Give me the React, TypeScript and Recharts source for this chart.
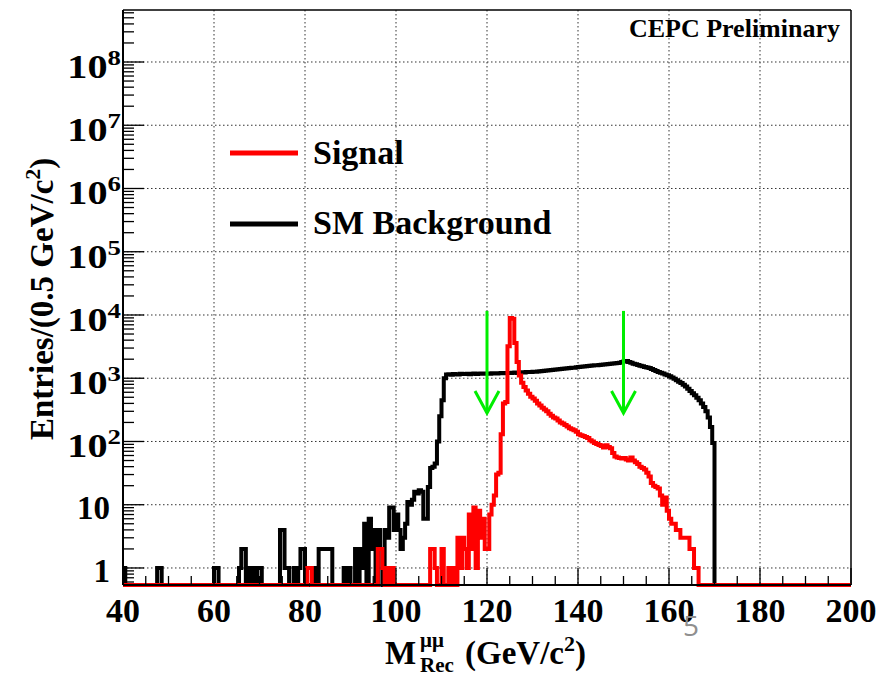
import React from "react";
import { LineChart, Line, XAxis, YAxis, CartesianGrid, ReferenceLine } from "recharts";

const SERIF = "'Liberation Serif', 'Times New Roman', Times, serif";

// histogram binning (0.5 GeV bins from 40 to 200)
const BIN_LOW = 40;
const BIN_WIDTH = 0.5;
const X_MIN = 40;
const X_MAX = 200;
const Y_MIN = 0.538;
const Y_MAX = 6.64e8;

// SM background entries per 0.5 GeV bin (row = 5 GeV, starting at 40)
const bkgCounts = [
  1, 0, 0, 0, 0, 0, 0, 0, 0, 0,
  0, 0, 0, 0, 0, 1, 1, 0, 0, 0,
  0, 0, 0, 0, 0, 0, 0, 0, 0, 0,
  0, 0, 0, 0, 0, 0, 0, 0, 0, 0,
  1, 1, 0, 0, 0, 0, 0, 0, 0, 0,
  0, 1, 2, 2, 0, 1, 0, 1, 0, 1,
  1, 0, 0, 0, 0, 0, 0, 0, 0, 4,
  4, 1, 1, 0, 0, 1, 0, 1, 2, 2,
  0, 0, 0, 0, 1, 0, 2, 2, 2, 2,
  2, 2, 0, 0, 0, 0, 0, 1, 0, 1,
  0, 0, 2, 0, 2, 1, 5, 0, 6, 2,
  4, 0, 4, 2, 0, 4, 3, 9, 9, 4,
  7, 4, 2, 3, 5, 11, 10, 12, 16, 15,
  17, 16, 6, 6, 19, 38, 40, 45, 100, 250,
  450, 1000, 1150, 1160, 1140, 1170, 1160, 1150, 1175, 1165,
  1170, 1180, 1160, 1175, 1185, 1170, 1180, 1190, 1175, 1185,
  1190, 1180, 1195, 1200, 1185, 1200, 1210, 1195, 1205, 1215,
  1210, 1220, 1230, 1215, 1235, 1240, 1230, 1250, 1255, 1260,
  1270, 1265, 1280, 1290, 1300, 1310, 1320, 1335, 1350, 1360,
  1380, 1390, 1400, 1410, 1420, 1440, 1450, 1460, 1470, 1490,
  1500, 1520, 1530, 1550, 1560, 1570, 1590, 1600, 1610, 1620,
  1640, 1650, 1660, 1680, 1700, 1710, 1730, 1740, 1760, 1800,
  1860, 1880, 1800, 1760, 1700, 1660, 1620, 1580, 1550, 1510,
  1480, 1450, 1400, 1350, 1300, 1260, 1220, 1190, 1150, 1110,
  1070, 1030, 980, 930, 880, 840, 790, 740, 680, 630,
  580, 540, 490, 450, 400, 350, 300, 240, 170, 95,
  0, 0, 0, 0, 0, 0, 0, 0, 0, 0,
  0, 0, 0, 0, 0, 0, 0, 0, 0, 0,
  0, 0, 0, 0, 0, 0, 0, 0, 0, 0,
  0, 0, 0, 0, 0, 0, 0, 0, 0, 0,
  0, 0, 0, 0, 0, 0, 0, 0, 0, 0,
  0, 0, 0, 0, 0, 0, 0, 0, 0, 0,
];

// Signal entries per 0.5 GeV bin
const sigCounts = [
  0, 0, 0, 0, 0, 0, 0, 0, 0, 0,
  0, 0, 0, 0, 0, 0, 0, 0, 0, 0,
  0, 0, 0, 0, 0, 0, 0, 0, 0, 0,
  0, 0, 0, 0, 0, 0, 0, 0, 0, 0,
  0, 0, 0, 0, 0, 0, 0, 0, 0, 0,
  0, 0, 0, 0, 0, 0, 0, 0, 0, 0,
  0, 0, 0, 0, 0, 0, 0, 0, 0, 0,
  0, 0, 0, 0, 0, 0, 0, 0, 0, 0,
  0, 1, 1, 0, 0, 0, 0, 0, 0, 0,
  0, 0, 0, 0, 0, 0, 0, 0, 0, 0,
  0, 0, 0, 0, 0, 0, 0, 0, 0, 0,
  0, 0, 2, 2, 1, 0, 1, 0, 1, 0,
  0, 0, 0, 0, 0, 0, 0, 0, 0, 0,
  0, 0, 0, 0, 0, 2, 2, 1, 0, 0,
  2, 0, 0, 1, 0, 1, 0, 3, 1, 3,
  2, 1, 7, 2, 9, 1, 8, 3, 6, 2,
  2, 7, 10, 14, 30, 32, 130, 400, 420, 3200,
  9000, 8700, 3600, 1800, 1100, 850, 730, 640, 570, 510,
  480, 440, 400, 370, 340, 320, 300, 275, 255, 240,
  230, 215, 200, 192, 182, 172, 162, 156, 150, 142,
  130, 125, 122, 118, 114, 105, 100, 95, 91, 88,
  85, 80, 87, 82, 78, 66, 58, 56, 55, 54,
  55, 52, 50, 56, 50, 47, 44, 40, 38, 36,
  32, 28, 22, 20, 19, 18, 14, 10, 13, 8,
  6, 5, 5, 4, 4, 3, 3, 3, 3, 2,
  2, 1, 1, 0, 0, 0, 0, 0, 0, 0,
  0, 0, 0, 0, 0, 0, 0, 0, 0, 0,
  0, 0, 0, 0, 0, 0, 0, 0, 0, 0,
  0, 0, 0, 0, 0, 0, 0, 0, 0, 0,
  0, 0, 0, 0, 0, 0, 0, 0, 0, 0,
  0, 0, 0, 0, 0, 0, 0, 0, 0, 0,
  0, 0, 0, 0, 0, 0, 0, 0, 0, 0,
];

const xLabelTicks = [40, 60, 80, 100, 120, 140, 160, 180, 200];
const xGridValues = [60, 80, 100, 120, 140, 160, 180];
const yDecadeTicks = [1, 10, 100, 1e3, 1e4, 1e5, 1e6, 1e7, 1e8];
const yTickLabels: [string, string][] = [
  ["1", ""], ["10", ""], ["10", "2"], ["10", "3"], ["10", "4"],
  ["10", "5"], ["10", "6"], ["10", "7"], ["10", "8"],
];
const cutValues = [120, 150];
const arrowTop = 11600;
const arrowTip = 282;
const legendItems = [
  { label: "Signal", color: "#ff0000" },
  { label: "SM Background", color: "#000000" },
];

// tick positions (5 GeV minor ticks, log minor ticks)
const xTicks: number[] = [];
for (let v = X_MIN; v <= X_MAX; v += 5) xTicks.push(v);
const yTicks: number[] = [];
for (let e = -1; e <= 8; e++) {
  for (let k = 1; k <= 9; k++) {
    const v = k * Math.pow(10, e);
    if (v >= Y_MIN && v <= Y_MAX) yTicks.push(v);
  }
}

const floorZero = (v: number) => (v > 0 ? v : Y_MIN);
const histData = bkgCounts.map((b, i) => ({
  m: BIN_LOW + i * BIN_WIDTH,
  bkg: floorZero(b),
  sig: floorZero(sigCounts[i]),
}));
histData.push({
  m: X_MAX,
  bkg: floorZero(bkgCounts[bkgCounts.length - 1]),
  sig: floorZero(sigCounts[sigCounts.length - 1]),
});

const PLOT_LEFT = 123;
const PLOT_BOTTOM = 585;

function YTick(props: any) {
  const { y, payload } = props;
  const x = PLOT_LEFT;
  const v = payload.value;
  const idx = yDecadeTicks.findIndex((d) => Math.abs(d - v) / d < 1e-6);
  const major = idx >= 0;
  const lab = major ? yTickLabels[idx] : null;
  return (
    <g>
      <line x1={x} y1={y} x2={x + (major ? 21 : 11)} y2={y} stroke="#000" strokeWidth={1.3} />
      {lab && lab[1] !== "" && (
        <text
          transform={`translate(${x - 2},${y + 16}) scale(1.22,1)`}
          textAnchor="end"
          fontFamily={SERIF}
          fontWeight="bold"
          fontSize={33}
          fill="#000"
        >
          {lab[0]}
          <tspan dy={-13} fontSize={22}>{lab[1]}</tspan>
        </text>
      )}
      {lab && lab[1] === "" && (
        <text x={x - 13} y={y + 14} textAnchor="end" fontFamily={SERIF} fontWeight="bold" fontSize={33} fill="#000">
          {lab[0]}
        </text>
      )}
    </g>
  );
}

function XTick(props: any) {
  const { x, payload } = props;
  const y = PLOT_BOTTOM;
  const v = payload.value;
  const major = xLabelTicks.indexOf(v) >= 0;
  return (
    <g>
      <line x1={x} y1={y} x2={x} y2={y - (major ? 17 : 9)} stroke="#000" strokeWidth={1.3} />
      {major && (
        <text x={x} y={y + 37} textAnchor="middle" fontFamily={SERIF} fontWeight="bold" fontSize={34} fill="#000">
          {v}
        </text>
      )}
    </g>
  );
}

function ArrowShape(props: any) {
  const { x1, y1, x2, y2 } = props;
  const col = "#00ee00";
  return (
    <g>
      <line x1={x1} y1={y1} x2={x2} y2={y2} stroke={col} strokeWidth={3} />
      <polyline
        points={`${x2 - 12},${y2 - 22} ${x2},${y2} ${x2 + 12},${y2 - 22}`}
        fill="none"
        stroke={col}
        strokeWidth={3}
      />
    </g>
  );
}

export default function App() {
  return (
    <div style={{ position: "fixed", left: 0, top: 0, width: 881, height: 673, background: "#fff" }}>
      <LineChart
        width={881}
        height={673}
        data={histData}
        margin={{ top: 10, right: 30, bottom: 48, left: 63 }}
      >
        <CartesianGrid
          horizontalValues={yDecadeTicks}
          verticalValues={xGridValues}
          stroke="#333"
          strokeDasharray="1.5 2.5"
          strokeWidth={1}
        />
        <XAxis
          dataKey="m"
          type="number"
          domain={[X_MIN, X_MAX]}
          ticks={xTicks}
          interval={0}
          tick={XTick}
          tickLine={false}
          tickSize={0}
          tickMargin={0}
          height={40}
          axisLine={{ stroke: "#000", strokeWidth: 2 }}
        />
        <YAxis
          type="number"
          scale="log"
          domain={[Y_MIN, Y_MAX]}
          ticks={yTicks}
          interval={0}
          tick={YTick}
          tickLine={false}
          tickSize={0}
          tickMargin={0}
          width={60}
          axisLine={{ stroke: "#000", strokeWidth: 2 }}
        />
        <ReferenceLine y={Y_MAX} stroke="#000" strokeWidth={1.5} ifOverflow="visible" />
        <ReferenceLine x={X_MAX} stroke="#000" strokeWidth={1.5} ifOverflow="visible" />
        <Line
          dataKey="bkg"
          type="stepAfter"
          stroke="#000"
          strokeWidth={4}
          dot={false}
          activeDot={false}
          isAnimationActive={false}
        />
        <Line
          dataKey="sig"
          type="stepAfter"
          stroke="#ff0000"
          strokeWidth={4}
          dot={false}
          activeDot={false}
          isAnimationActive={false}
        />
        {cutValues.map((c) => (
          <ReferenceLine
            key={c}
            segment={[{ x: c, y: arrowTop }, { x: c, y: arrowTip }]}
            stroke="#00ee00"
            strokeWidth={3}
            ifOverflow="visible"
            shape={ArrowShape}
          />
        ))}
      </LineChart>
      <svg
        width={881}
        height={673}
        style={{ position: "absolute", left: 0, top: 0, pointerEvents: "none" }}
      >
        <text x={840} y={37} textAnchor="end" fontFamily={SERIF} fontWeight="bold" fontSize={26} fill="#000">
          CEPC Preliminary
        </text>
        {legendItems.map((it, i) => (
          <g key={it.label}>
            <line x1={230} x2={298} y1={153 + i * 71} y2={153 + i * 71} stroke={it.color} strokeWidth={5} />
            <text x={313} y={164 + i * 70} fontFamily={SERIF} fontWeight="bold" fontSize={34} fill="#000">
              {it.label}
            </text>
          </g>
        ))}
        <text
          transform="translate(53,440) rotate(-90)"
          fontFamily={SERIF}
          fontWeight="bold"
          fontSize={33}
          fill="#000"
        >
          Entries/(0.5 GeV/c
          <tspan dy={-13} fontSize={22}>2</tspan>
          <tspan dy={13}>)</tspan>
        </text>
        <text x={385} y={664} fontFamily={SERIF} fontWeight="bold" fontSize={33} fill="#000">M</text>
        <text x={420} y={647} fontFamily={SERIF} fontWeight="bold" fontSize={21} fill="#000">μμ</text>
        <text x={420} y={672} fontFamily={SERIF} fontWeight="bold" fontSize={21} fill="#000">Rec</text>
        <text x={465} y={664} fontFamily={SERIF} fontWeight="bold" fontSize={33} fill="#000">
          (GeV/c
          <tspan dy={-13} fontSize={22}>2</tspan>
          <tspan dy={13}>)</tspan>
        </text>
        <text x={683} y={636} fontFamily="'Open Sans', 'DejaVu Sans', sans-serif" fontSize={28} fill="#8f8f8f">
          5
        </text>
      </svg>
    </div>
  );
}
